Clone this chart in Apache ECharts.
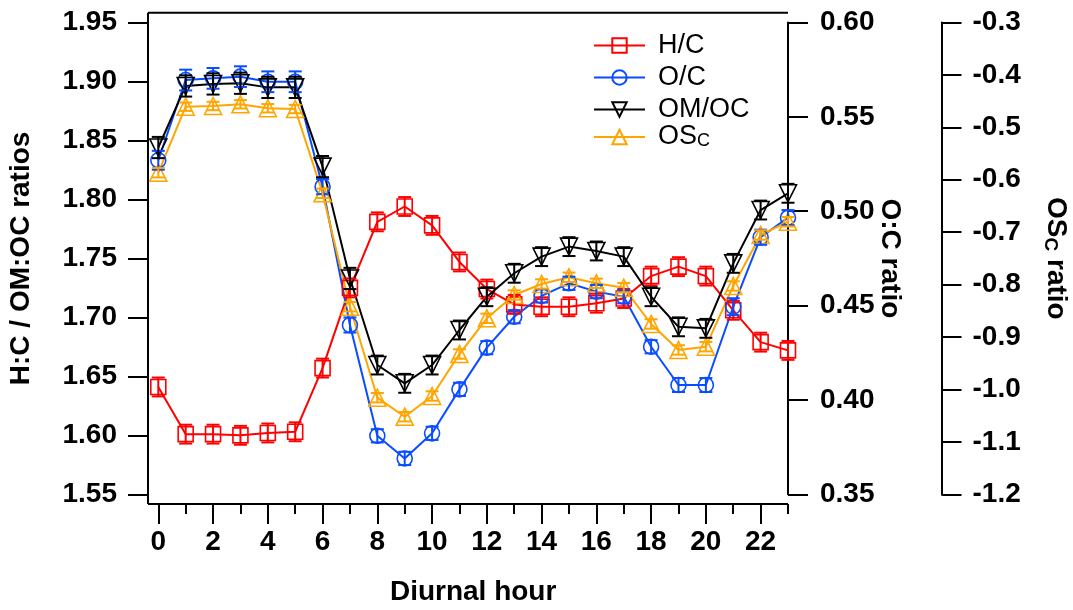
<!DOCTYPE html>
<html>
<head>
<meta charset="utf-8">
<script src="https://cdn.jsdelivr.net/npm/echarts@6/dist/echarts.min.js"></script>
<style>html,body{margin:0;padding:0;background:#fff}#chart{width:1073px;height:610px}</style>
</head>
<body>
<div id="chart"></div>
<script>
// ---- data ----
const hours = [0,1,2,3,4,5,6,7,8,9,10,11,12,13,14,15,16,17,18,19,20,21,22,23];
const hcValues   = [1.641,1.601,1.601,1.600,1.602,1.603,1.657,1.725,1.781,1.794,1.778,1.747,1.724,1.711,1.709,1.709,1.712,1.716,1.735,1.743,1.735,1.706,1.679,1.672];
const hcErrors   = [0.008,0.008,0.008,0.008,0.008,0.008,0.008,0.008,0.008,0.008,0.008,0.008,0.008,0.008,0.008,0.008,0.008,0.008,0.008,0.008,0.008,0.008,0.008,0.008];
const ocValues   = [0.527,0.5695,0.5704,0.5713,0.5686,0.5686,0.513,0.4397,0.381,0.369,0.3823,0.4056,0.4277,0.4441,0.4551,0.4618,0.4574,0.4547,0.4282,0.4079,0.4079,0.4494,0.4862,0.4966];
const ocErrors   = [0.005,0.0055,0.0055,0.0055,0.0055,0.0055,0.004,0.004,0.0035,0.0035,0.0035,0.0035,0.0035,0.0035,0.0035,0.0035,0.0035,0.0035,0.0035,0.0037,0.0037,0.0045,0.004,0.004];
const omocValues = [1.844,1.8962,1.8979,1.8985,1.895,1.895,1.8278,1.733,1.6596,1.6441,1.6596,1.6893,1.7175,1.7374,1.7515,1.760,1.7563,1.7515,1.7175,1.692,1.6907,1.7458,1.791,1.8052];
const omocErrors = [0.009,0.009,0.009,0.009,0.009,0.009,0.009,0.009,0.008,0.008,0.008,0.008,0.008,0.008,0.008,0.008,0.008,0.008,0.008,0.008,0.008,0.008,0.008,0.008];
const oscValues  = [-0.5865,-0.4606,-0.4593,-0.456,-0.4636,-0.465,-0.6258,-0.8421,-1.0157,-1.052,-1.0125,-0.9324,-0.8643,-0.8198,-0.7988,-0.786,-0.7975,-0.8059,-0.8751,-0.9247,-0.9184,-0.8026,-0.7054,-0.68];
const oscErrors  = [0.009,0.008,0.008,0.008,0.008,0.008,0.009,0.009,0.009,0.009,0.009,0.009,0.009,0.009,0.009,0.009,0.009,0.009,0.009,0.009,0.009,0.009,0.009,0.009];
const leftTicks  = {min:1.55, max:1.95, interval:0.05};
const ocTicks    = {min:0.35, max:0.60, interval:0.05};
const oscTicks   = {min:-1.2, max:-0.3, interval:0.1};
const seriesNames = ['H/C','O/C','OM/OC','OSc'];

// ---- layout ----
const FONT = 'Liberation Sans, Arial, sans-serif';
const G = {left:158.3, top:22.5, right:788, bottom:494.3};
const frame = {left:148, top:12.7, bottom:504};
const colors = {hc:'#ff0000', oc:'#0a4cff', omoc:'#000000', osc:'#ffa500'};

const chart = echarts.init(document.getElementById('chart'), null, {renderer:'canvas'});

function lineSeries(name, vals, color, yIdx, symbol, size, rotate) {
  return {
    name: name, type:'line', xAxisIndex:0, yAxisIndex:yIdx,
    data: hours.map((h,i)=>[h, vals[i]]),
    symbol: symbol, symbolSize: size, symbolRotate: rotate || 0,
    showAllSymbol:true, clip:false,
    lineStyle:{color:color, width:2},
    itemStyle:{color:'rgba(255,255,255,0)', borderColor:color, borderWidth:1.6},
    emphasis:{disabled:true}, z:3
  };
}
function errSeries(vals, errs, color, yIdx) {
  return {
    type:'custom', xAxisIndex:0, yAxisIndex:yIdx, clip:false, silent:true, z:4,
    data: hours.map((h,i)=>[h, vals[i], errs[i]]),
    encode:{x:0, y:1},
    renderItem: function(params, api) {
      const x = api.value(0), y = api.value(1), e = api.value(2);
      const t = api.coord([x, y+e]), b = api.coord([x, y-e]);
      const w = 6.5;
      const st = {stroke:color, lineWidth:2};
      return {type:'group', children:[
        {type:'line', shape:{x1:t[0],y1:t[1],x2:b[0],y2:b[1]}, style:st},
        {type:'line', shape:{x1:t[0]-w,y1:t[1],x2:t[0]+w,y2:t[1]}, style:st},
        {type:'line', shape:{x1:b[0]-w,y1:b[1],x2:b[0]+w,y2:b[1]}, style:st}
      ]};
    }
  };
}

const axisLabelStyle = {fontFamily:FONT, fontWeight:'bold', fontSize:28, color:'#000'};
const nameStyle = {fontFamily:FONT, fontWeight:'bold', fontSize:28, color:'#000', lineHeight:30,
  rich:{sub:{fontFamily:FONT, fontWeight:'bold', fontSize:19, color:'#000', verticalAlign:'bottom', lineHeight:19, padding:[22,0,0,0]}}};
const tickStyle = {color:'#000', width:2};
const legendText = {fontFamily:FONT, fontSize:27, color:'#000', padding:[0,0,0,8], lineHeight:27,
  rich:{sub:{fontFamily:FONT, fontSize:18, color:'#000', verticalAlign:'bottom', lineHeight:18, padding:[20,0,0,0]}}};

const option = {
  animation:false,
  backgroundColor:'#fff',
  grid:{left:G.left, top:G.top, right:1073-G.right, bottom:610-G.bottom, containLabel:false, outerBoundsMode:'none'},
  xAxis:[
    {type:'value', min:0, max:23, interval:2, position:'bottom', offset:frame.bottom-G.bottom,
     axisLine:{show:false, onZero:false}, splitLine:{show:false},
     axisTick:{show:true, length:20, lineStyle:tickStyle},
     axisLabel:Object.assign({margin:24, showMaxLabel:false, formatter: v => String(v)}, axisLabelStyle),
     name:'Diurnal hour', nameLocation:'middle', nameGap:73, nameMoveOverlap:false, nameTextStyle:nameStyle},
    {type:'value', min:0, max:23, interval:1, position:'bottom', offset:frame.bottom-G.bottom,
     axisLine:{show:false, onZero:false}, splitLine:{show:false}, axisLabel:{show:false},
     axisTick:{show:true, length:10, lineStyle:tickStyle}}
  ],
  yAxis:[
    {type:'value', position:'left', offset:G.left-frame.left, min:leftTicks.min, max:leftTicks.max, interval:leftTicks.interval,
     axisLine:{show:false, onZero:false}, splitLine:{show:false},
     axisTick:{show:true, length:20, lineStyle:tickStyle},
     axisLabel:Object.assign({margin:31, formatter: v => v.toFixed(2)}, axisLabelStyle),
     name:'H:C / OM:OC ratios', nameLocation:'middle', nameGap:112, nameMoveOverlap:false, nameTextStyle:nameStyle},
    {type:'value', position:'right', offset:0, min:ocTicks.min, max:ocTicks.max, interval:ocTicks.interval,
     axisLine:{show:true, onZero:false, lineStyle:tickStyle}, splitLine:{show:false},
     axisTick:{show:true, length:20, lineStyle:tickStyle},
     axisLabel:Object.assign({margin:32, formatter: v => v.toFixed(2)}, axisLabelStyle),
     name:'O:C ratio', nameLocation:'middle', nameGap:87, nameRotate:-90, nameMoveOverlap:false, nameTextStyle:nameStyle},
    {type:'value', position:'right', offset:153.5, min:oscTicks.min, max:oscTicks.max, interval:oscTicks.interval,
     axisLine:{show:true, onZero:false, lineStyle:tickStyle}, splitLine:{show:false},
     axisTick:{show:true, length:20, lineStyle:tickStyle},
     axisLabel:Object.assign({margin:31, formatter: v => v.toFixed(1)}, axisLabelStyle),
     name:'OS{sub|C} ratio', nameLocation:'middle', nameGap:99, nameRotate:-90, nameMoveOverlap:false, nameTextStyle:nameStyle}
  ],
  legend:[
    {orient:'vertical', left:593, top:32, padding:0, itemWidth:51, itemHeight:18, itemGap:5,
     data:seriesNames.slice(0,3), selectedMode:false, textStyle:legendText},
    {orient:'vertical', left:593, top:112.5, padding:0, itemWidth:51, itemHeight:18, itemGap:5,
     data:seriesNames.slice(3), selectedMode:false,
     formatter: n => n === 'OSc' ? 'OS{sub|C}' : n, textStyle:legendText}
  ],
  graphic:[
    {type:'line', shape:{x1:frame.left, y1:frame.top, x2:frame.left, y2:frame.bottom}, style:{stroke:'#000', lineWidth:2}, silent:true},
    {type:'line', shape:{x1:frame.left, y1:frame.top, x2:G.right, y2:frame.top}, style:{stroke:'#000', lineWidth:2}, silent:true},
    {type:'line', shape:{x1:frame.left, y1:frame.bottom, x2:G.right, y2:frame.bottom}, style:{stroke:'#000', lineWidth:2}, silent:true}
  ],
  series:[
    lineSeries('H/C', hcValues, colors.hc, 0, 'rect', 15),
    errSeries(hcValues, hcErrors, colors.hc, 0),
    lineSeries('O/C', ocValues, colors.oc, 1, 'circle', 15),
    errSeries(ocValues, ocErrors, colors.oc, 1),
    lineSeries('OM/OC', omocValues, colors.omoc, 0, 'triangle', 17, 180),
    errSeries(omocValues, omocErrors, colors.omoc, 0),
    lineSeries('OSc', oscValues, colors.osc, 2, 'triangle', 17),
    errSeries(oscValues, oscErrors, colors.osc, 2)
  ]
};
chart.setOption(option);
</script>
</body>
</html>
